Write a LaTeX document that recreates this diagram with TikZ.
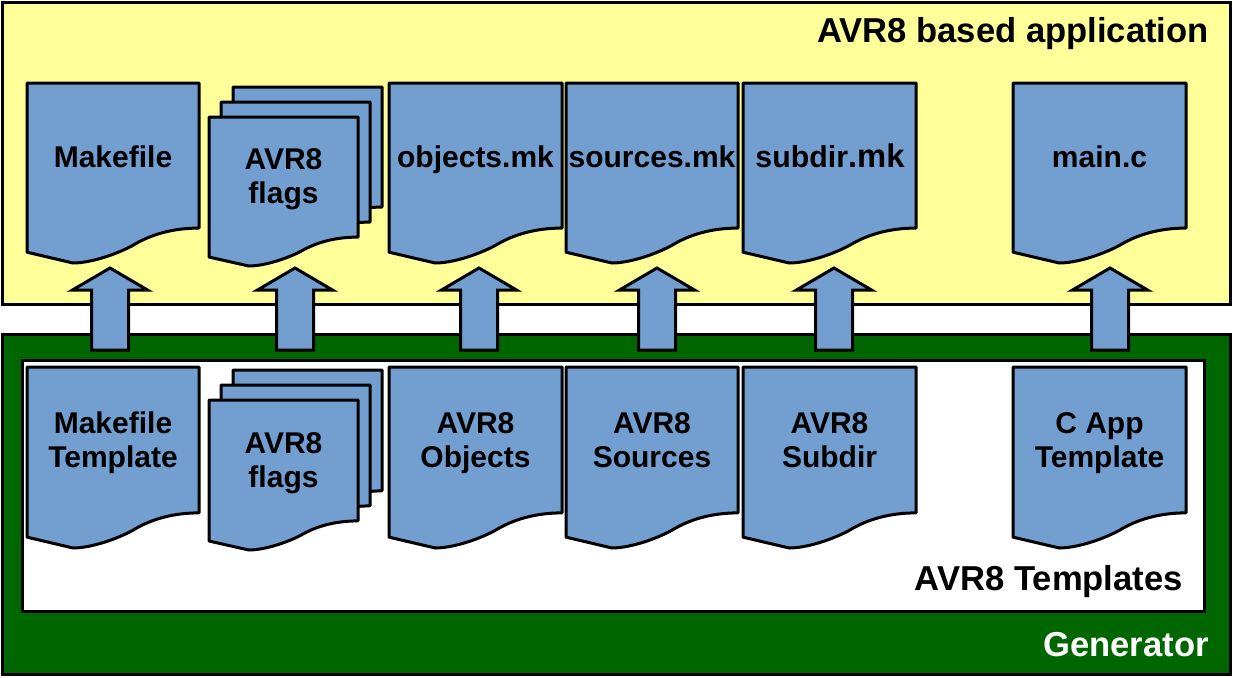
\documentclass[tikz,border=0pt]{standalone}
\usepackage{fontspec}
\setmainfont{Liberation Sans}
\usetikzlibrary{calc}
\definecolor{appyellow}{HTML}{FFFF99}
\definecolor{docblue}{HTML}{729FCF}
\definecolor{gengreen}{HTML}{006600}
\tikzset{
  frame/.style={line width=3pt, draw=black, line join=miter},
  docline/.style={line width=3pt, draw=black, fill=docblue, line join=round},
  blockarrow/.style={line width=3pt, draw=black, fill=docblue, line join=miter},
  lbl/.style={font=\fontsize{30}{33.5}\selectfont\bfseries, inner sep=0pt, align=center, anchor=base},
  ttl/.style={font=\fontsize{34.6}{40}\selectfont\bfseries, inner sep=0pt, anchor=base east},
}
\newcommand\docshape[4]{%
  \begin{scope}[shift={(#1,#2)},xscale=#3,yscale=#4]
    \filldraw[docline] (0,0) -- (1,0) -- (1,.806)
      .. controls (.85,.806) and (.72,.84) .. (.61,.905)
      .. controls (.5,.96) and (.36,1) .. (.267,1)
      -- (0,.94) -- cycle;
  \end{scope}}
\newcommand\uparrowfrom[2]{% bottom coordinate, top coordinate
  \filldraw[blockarrow] let \p1=(#1), \p2=(#2) in
    (\x1-18.5pt,\y1) -- (\x1-18.5pt,\y2-22pt) -- (\x1-37.5pt,\y2-22pt) -- (\x1,\y2)
    -- (\x1+37.5pt,\y2-22pt) -- (\x1+18.5pt,\y2-22pt) -- (\x1+18.5pt,\y1) -- cycle;}
\begin{document}
\begin{tikzpicture}[x=1pt,y=-1pt]
\useasboundingbox (0,0) rectangle (1233,677);
% containers
\filldraw[frame, fill=appyellow] (2.5,2.5) rectangle (1230.5,304.5);
\filldraw[frame, fill=gengreen] (2.5,334) rectangle (1230.5,674.5);
\filldraw[frame, fill=white] (22.5,360) rectangle (1204,611.5);
\node[ttl] (app) at (1209,43) {AVR8 based application};
\node[ttl] (tpl) at (1183,590) {AVR8 Templates};
\node[ttl, text=white] (gen) at (1209,656) {Generator};
% upper row documents
\docshape{27}{83}{172}{180}
\docshape{233}{87}{149}{149}
\docshape{221}{102}{149}{149}
\docshape{209}{117}{149}{149}
\docshape{389}{83}{173}{180}
\docshape{566}{83}{172}{180}
\docshape{743}{83}{173}{180}
\docshape{1013}{83}{173}{180}
\node[lbl] (mk) at (113,167) {Makefile};
\node[lbl] (fl) at (283.5,203) {AVR8\\flags};
\node[lbl] (ob) at (475.5,167) {objects.mk};
\node[lbl] (so) at (652,167) {sources.mk};
\node[lbl] (sd) at (830,167) {{\fontsize{30.3}{34}\selectfont subdir}{\fontsize{32.8}{34}\selectfont .mk}};
\node[lbl] (mc) at (1099.5,167) {main.c};
% lower row documents
\docshape{27}{367}{172}{181}
\docshape{233}{370}{149}{150}
\docshape{221}{385}{149}{150}
\docshape{209}{400}{149}{150}
\docshape{389}{367}{173}{181}
\docshape{566}{367}{172}{181}
\docshape{743}{367}{173}{181}
\docshape{1013}{367}{173}{181}
\node[lbl] (tmk) at (113,467) {Makefile\\Template};
\node[lbl] (tfl) at (283.5,487) {AVR8\\flags};
\node[lbl] (tob) at (475.5,467) {AVR8\\Objects};
\node[lbl] (tso) at (652,467) {AVR8\\Sources};
\node[lbl] (tsd) at (829.5,467) {AVR8\\Subdir};
\node[lbl] (tmc) at (1099.5,467) {C App\\Template};
% block arrows
\foreach \cx/\k in {110/1,295/2,479/3,657/4,834/5,1110/6}{
  \coordinate (b\k) at (\cx,350);
  \coordinate (t\k) at (\cx,268);
  \uparrowfrom{b\k}{t\k}
}
\end{tikzpicture}
\end{document}
